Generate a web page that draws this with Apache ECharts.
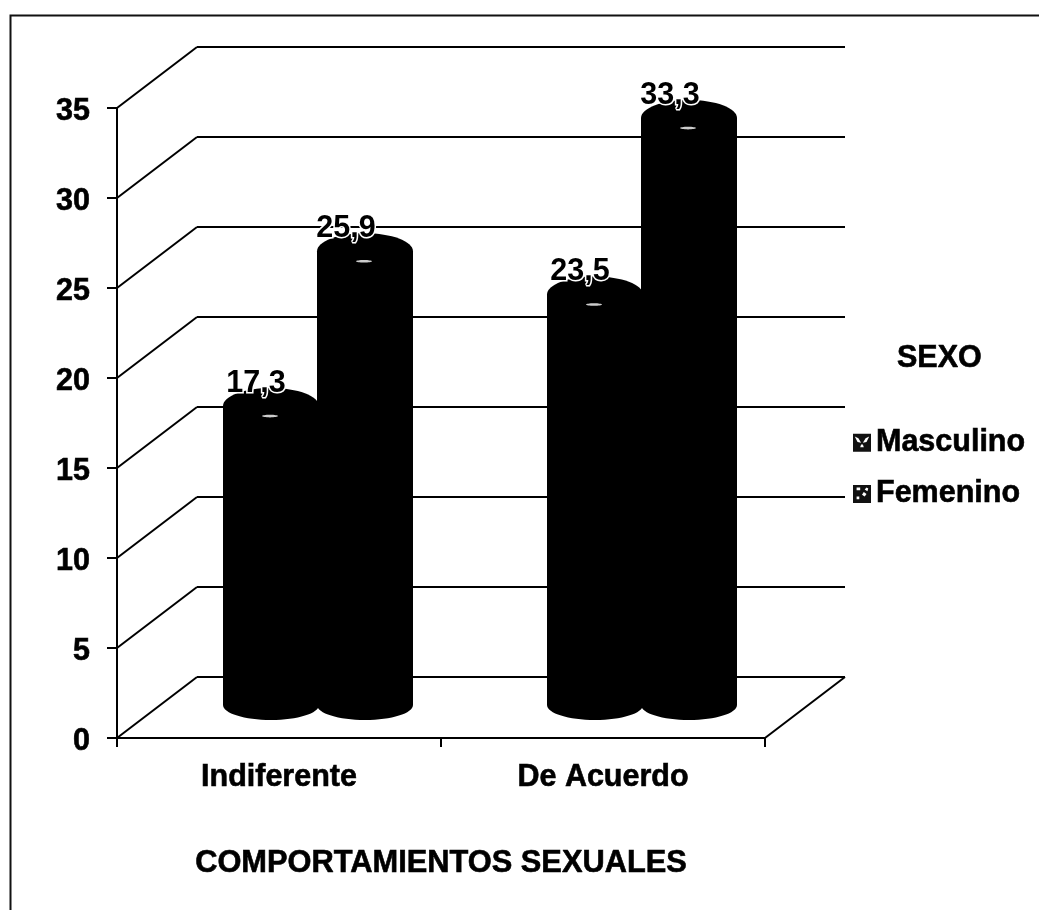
<!DOCTYPE html>
<html>
<head>
<meta charset="utf-8">
<style>html,body{margin:0;padding:0;background:#fff}#c{width:1039px;height:910px}</style>
<script src="https://cdn.jsdelivr.net/npm/echarts@6/dist/echarts.min.js"></script>
</head>
<body>
<div id="c"></div>
<script>
const categories = ['Indiferente', 'De Acuerdo'];
const masculino = [17.3, 23.5];
const femenino = [25.9, 33.3];
const wallTicks = [0, 5, 10, 15, 20, 25, 30, 35];
const seriesNames = ['Masculino', 'Femenino'];

const FAMILY = '"Liberation Sans", Arial, sans-serif';
const FONT = 'bold 30.5px ' + FAMILY;
const DEPTH_X = 80, DEPTH_Y = -61;
const iconM = 'path://M0 0L20 0L20 20L0 20ZM2 3L5 9L9 10L6 5ZM18 3L14 5L11 10L15 9ZM9 12L8 15L12 15L11 12Z';
const iconF = 'path://M0 0L20 0L20 20L0 20ZM4 3L4 6L8 6L8 3ZM12 8L10 11L13 13L15 10ZM4 13L4 16L7 16L7 13ZM15 3L13 5L16 7L17 4Z';
const thick = {textBorderColor: '#000', textBorderWidth: 0.6};

function renderWall(params, api) {
  const v = api.value(0);
  const a = api.coord([0, v]);
  const s = params.coordSys;
  const right = s.x + s.width;
  const y = Math.round(a[1]);
  const children = [
    {type: 'line', shape: {x1: s.x, y1: y, x2: s.x + DEPTH_X, y2: y + DEPTH_Y}, style: {stroke: '#000', lineWidth: 2}},
    {type: 'line', shape: {x1: s.x + DEPTH_X, y1: y + DEPTH_Y, x2: right + DEPTH_X, y2: y + DEPTH_Y}, style: {stroke: '#000', lineWidth: 2}}
  ];
  if (v === 0) {
    children.push({type: 'line', shape: {x1: right, y1: y, x2: right + DEPTH_X, y2: y + DEPTH_Y}, style: {stroke: '#000', lineWidth: 2}});
  }
  return {type: 'group', children};
}

function makeCylinder(side, labelShift) {
  return function (params, api) {
    const c = api.value(0), v = api.value(1);
    const p0 = api.coord([c, 0]);
    const p = api.coord([c, v]);
    const cx = p0[0] + 39 + side * 47;
    const baseY = p0[1] - 33;
    const topY = p[1] - 20.5;
    const rx = 48;
    const text = String(v).replace('.', ',');
    return {
      type: 'group',
      children: [
        {type: 'rect', shape: {x: cx - rx, y: topY, width: rx * 2, height: baseY - topY}, style: {fill: '#000'}},
        {type: 'ellipse', shape: {cx: cx, cy: topY, rx: rx, ry: 18}, style: {fill: '#000'}},
        {type: 'ellipse', shape: {cx: cx, cy: baseY, rx: rx, ry: 15}, style: {fill: '#000'}},
        {type: 'ellipse', shape: {cx: cx - 1, cy: topY + 10, rx: 8, ry: 1.3}, style: {fill: '#ccc'}},
        {type: 'text', z2: 100, style: {
          text: text, x: cx + labelShift, y: topY - 23, align: 'center', verticalAlign: 'middle',
          font: FONT, fill: '#000', stroke: '#fff', lineWidth: 3, strokeFirst: true
        }}
      ]
    };
  };
}

const chart = echarts.init(document.getElementById('c'), null, {renderer: 'canvas'});
chart.setOption({
  animation: false,
  backgroundColor: '#fff',
  grid: {left: 117, right: 274, top: 108, bottom: 172, containLabel: false},
  title: {
    text: 'SEXO', left: 892, top: 338,
    textStyle: Object.assign({fontFamily: FAMILY, fontSize: 30.5, fontWeight: 'bold', color: '#000'}, thick)
  },
  legend: {
    orient: 'vertical', left: 853, top: 427, itemWidth: 18, itemHeight: 18, itemGap: 19.5, padding: 0,
    data: [
      {name: seriesNames[0], icon: iconM, itemStyle: {color: '#111'}},
      {name: seriesNames[1], icon: iconF, itemStyle: {color: '#111'}}
    ],
    textStyle: Object.assign({fontFamily: FAMILY, fontSize: 30.5, fontWeight: 'bold', color: '#000', lineHeight: 30}, thick),
    selectedMode: false
  },
  xAxis: {
    type: 'category', data: categories,
    name: 'COMPORTAMIENTOS SEXUALES', nameLocation: 'middle', nameGap: 110,
    nameTextStyle: Object.assign({fontFamily: FAMILY, fontSize: 30.8, fontWeight: 'bold', color: '#000'}, thick),
    axisLine: {lineStyle: {color: '#000', width: 2}},
    axisTick: {show: true, length: 9, lineStyle: {color: '#000', width: 2}},
    axisLabel: Object.assign({fontFamily: FAMILY, fontSize: 30.5, fontWeight: 'bold', color: '#000', margin: 24}, thick),
    splitLine: {show: false}
  },
  yAxis: {
    type: 'value', min: 0, max: 35, interval: 5,
    axisLine: {show: true, lineStyle: {color: '#000', width: 2}},
    axisTick: {show: true, length: 10, lineStyle: {color: '#000', width: 2}},
    axisLabel: {
      margin: 27, formatter: '{a|{value}}',
      rich: {a: Object.assign({fontFamily: FAMILY, fontSize: 30.5, fontWeight: 'bold', color: '#000', padding: [7, 0, 0, 0]}, thick)}
    },
    splitLine: {show: false}
  },
  graphic: [{
    type: 'polyline', silent: true, z: -1,
    shape: {points: [[10.5, 910], [10.5, 15.5], [1039, 15.5]]},
    style: {stroke: '#111', lineWidth: 2, fill: null}
  }],
  series: [
    {type: 'custom', name: 'wall', z: 1, silent: true, data: wallTicks.map(v => [v]), encode: {y: 0}, renderItem: renderWall, clip: false},
    {type: 'custom', name: seriesNames[0], z: 3, data: masculino.map((v, i) => [i, v]), encode: {x: 0, y: 1}, renderItem: makeCylinder(-1, -15), itemStyle: {color: '#111'}, clip: false},
    {type: 'custom', name: seriesNames[1], z: 4, data: femenino.map((v, i) => [i, v]), encode: {x: 0, y: 1}, renderItem: makeCylinder(1, -19), itemStyle: {color: '#111'}, clip: false}
  ]
});
</script>
</body>
</html>
